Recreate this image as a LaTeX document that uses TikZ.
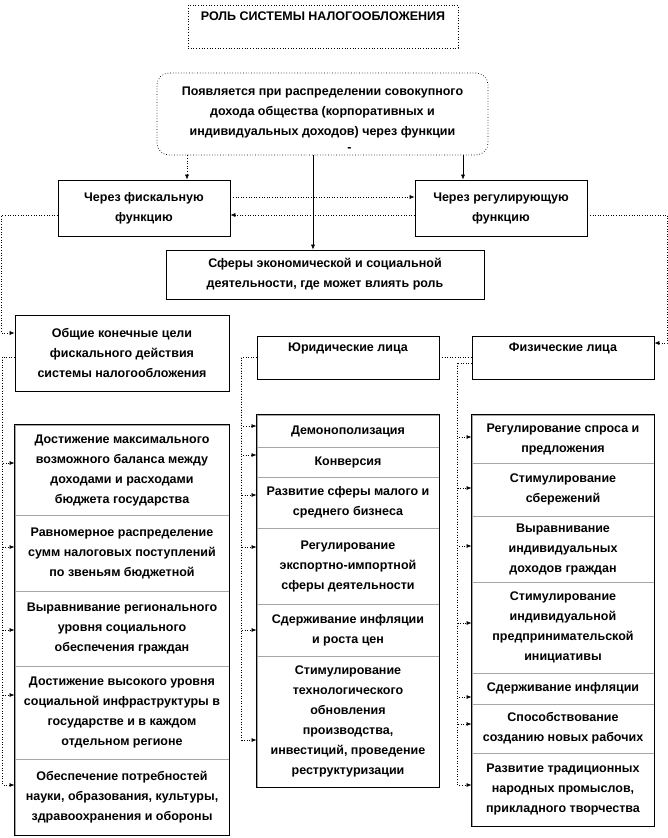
\documentclass[tikz,border=0pt]{standalone}
\usepackage{fontspec}
\setmainfont{Liberation Sans}
\usetikzlibrary{arrows.meta,calc}
\begin{document}
\begin{tikzpicture}[x=1pt,y=-1pt,
  txt/.style={font=\fontsize{12.5}{20}\selectfont\bfseries, align=center, inner sep=0pt},
  bx/.style={txt, draw=black, line width=0.7pt},
  cell/.style={txt, draw=gray!70, line width=1pt},
  gcell/.style={cell, minimum width=214pt},
  mcell/.style={cell, minimum width=182pt},
  rcell/.style={cell, minimum width=182pt},
  arr/.style={-{Latex[length=5pt,width=4pt]}, line width=0.6pt},
  arrd/.style={arr, dotted},
  dl/.style={dotted, line width=0.6pt}]
\useasboundingbox (0,0) rectangle (668,838);

% top part
\node[bx, dotted, minimum width=270pt, minimum height=43pt] (T) at (323,26.5) {РОЛЬ СИСТЕМЫ НАЛОГООБЛОЖЕНИЯ\\ \mbox{}};
\node[bx, dotted, rounded corners=12pt, minimum width=331pt, minimum height=82pt] (R) at (322.5,114)
  {\rule{0pt}{19pt}Появляется при распределении совокупного\\дохода общества (корпоративных и\\индивидуальных доходов) через функции\\[-4pt]\hspace*{54pt}-};
\node[bx, minimum width=172pt, minimum height=56pt] (F) at (144,208) {Через фискальную\\функцию};
\node[bx, minimum width=172pt, minimum height=56pt] (G) at (501,208) {Через регулирующую\\функцию};
\node[bx, minimum width=318pt, minimum height=49pt] (S) at (325,274.5) {Сферы экономической и социальной\\деятельности, где может влиять роль};

\node[bx, minimum width=214pt, minimum height=76pt] (H) at (122,353) {Общие конечные цели\\фискального действия\\системы налогообложения};
\node[bx, minimum width=182pt, minimum height=43pt] (J) at (348,357.5) {Юридические лица\\ \mbox{}};
\node[bx, minimum width=182pt, minimum height=43pt] (P) at (563,357.5) {Физические лица\\ \mbox{}};

% goals stack
\node[gcell, minimum height=90pt] (g1) at (122,470) {Достижение максимального\\возможного баланса между\\доходами и расходами\\бюджета государства};
\node[gcell, minimum height=76pt] (g2) at (122,553) {Равномерное распределение\\сумм налоговых поступлений\\по звеньям бюджетной};
\node[gcell, minimum height=75pt] (g3) at (122,628.5) {Выравнивание регионального\\уровня социального\\обеспечения граждан};
\node[gcell, minimum height=93pt] (g4) at (122,712.5) {Достижение высокого уровня\\социальной инфраструктуры в\\государстве и в каждом\\отдельном регионе};
\node[gcell, minimum height=76pt] (g5) at (122,797) {Обеспечение потребностей\\науки, образования, культуры,\\здравоохранения и обороны};
\draw[line width=0.8pt] (g1.north west) rectangle (g5.south east);

% middle stack
\node[mcell, minimum height=32pt] (m1) at (348,431) {Демонополизация};
\node[mcell, minimum height=30pt] (m2) at (348,462) {Конверсия};
\node[mcell, minimum height=51pt] (m3) at (348,502.5) {Развитие сферы малого и\\среднего бизнеса};
\node[mcell, minimum height=76pt] (m4) at (348,566) {Регулирование\\экспортно-импортной\\сферы деятельности};
\node[mcell, minimum height=52pt] (m5) at (348,630) {Сдерживание инфляции\\и роста цен};
\node[mcell, minimum height=131pt] (m6) at (348,721.5) {Стимулирование\\технологического\\обновления\\производства,\\инвестиций, проведение\\реструктуризации};
\draw[line width=0.8pt] (m1.north west) rectangle (m6.south east);

% right stack
\node[rcell, minimum height=48pt] (r1) at (563,439) {Регулирование спроса и\\предложения};
\node[rcell, minimum height=53pt] (r2) at (563,489.5) {Стимулирование\\сбережений};
\node[rcell, minimum height=66pt] (r3) at (563,549) {Выравнивание\\индивидуальных\\доходов граждан};
\node[rcell, minimum height=91pt] (r4) at (563,627.5) {Стимулирование\\индивидуальной\\предпринимательской\\инициативы};
\node[rcell, minimum height=31pt] (r5) at (563,688.5) {Сдерживание инфляции};
\node[rcell, minimum height=49pt] (r6) at (563,728.5) {Способствование\\созданию новых рабочих};
\node[rcell, minimum height=73pt] (r7) at (563,789.5) {Развитие традиционных\\народных промыслов,\\прикладного творчества};
\draw[line width=0.8pt] (r1.north west) rectangle (r7.south east);

% connectors from the rounded box
\coordinate (fx) at (187,0);
\coordinate (gx) at (463,0);
\coordinate (sx) at (313,0);
\draw[arrd] (R.south -| fx) -- (F.north -| fx);
\draw[arr] (R.south -| gx) -- (G.north -| gx);
\draw[arr] (R.south -| sx) -- (S.north -| sx);

% between functions
\draw[arrd] ([yshift=11pt]F.east) -- ([yshift=11pt]G.west);
\draw[arrd] ([yshift=-7pt]G.west) -- ([yshift=-7pt]F.east);

% outer loops
\draw[arrd] ([yshift=-7pt]F.west) -- ++(-56,0) |- ([yshift=20pt]H.west);
\draw[arrd] ([yshift=-7pt]G.east) -- ++(80,0) |- ([yshift=14.5pt]P.east);

% link between legal and natural persons
\draw[dl] (J.east) -- (P.west);

% left spine
\draw[dl] ([yshift=-4pt]H.west) -- ++(-12,0) coordinate (lsp);
\draw[arrd] (lsp) |- ([yshift=7pt]g1.west);
\draw[arrd] (lsp) |- ([yshift=6pt]g2.west);
\draw[arrd] (lsp) |- ([yshift=-1.5pt]g3.west);
\draw[arrd] (lsp) |- ([yshift=17.5pt]g4.west);
\draw[arrd] (lsp) |- ([yshift=12pt]g5.west);

% middle spine
\draw[dl] (J.west) -- ++(-15,0) coordinate (msp);
\draw[arrd] (msp) |- ([yshift=5pt]m1.west);
\draw[arrd] (msp) |- ([yshift=7pt]m2.west);
\draw[arrd] (msp) |- ([yshift=7.5pt]m3.west);
\draw[arrd] (msp) |- ([yshift=19pt]m4.west);
\draw[arrd] (msp) |- (m5.west);
\draw[arrd] (msp) |- ([yshift=-18.5pt]m6.west);

% right spine
\draw[dl] ([yshift=-5.5pt]P.west) -- ++(-14,0) coordinate (rsp);
\draw[arrd] (rsp) |- ([yshift=2pt]r1.west);
\draw[arrd] (rsp) |- ([yshift=1.5pt]r2.west);
\draw[arrd] (rsp) |- ([yshift=3pt]r3.west);
\draw[arrd] (rsp) |- ([yshift=4.5pt]r4.west);
\draw[arrd] (rsp) |- ([yshift=-8.5pt]r5.west);
\draw[arrd] (rsp) |- ([yshift=4.5pt]r6.west);
\draw[arrd] (rsp) |- ([yshift=4.5pt]r7.west);
\end{tikzpicture}
\end{document}
